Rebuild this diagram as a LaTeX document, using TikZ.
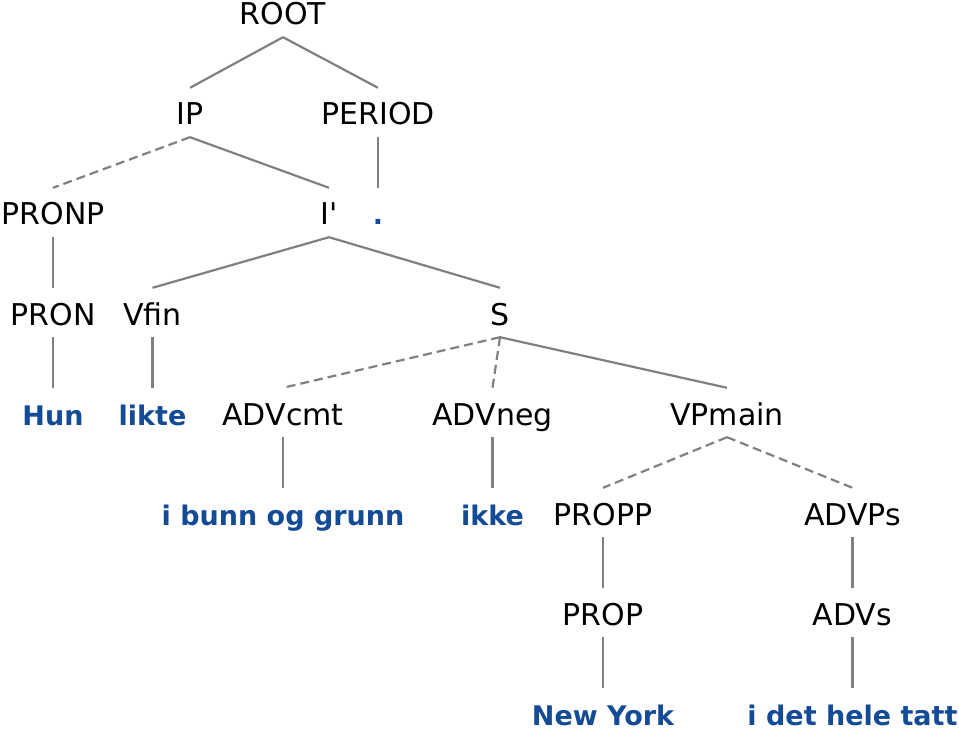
\documentclass[tikz,border=0pt]{standalone}
\usepackage{fontspec}
\setmainfont{DejaVu Sans}
\usepackage{xcolor}
\definecolor{wordblue}{RGB}{20,75,150}
\definecolor{edgegray}{RGB}{128,128,128}

\begin{document}
\begin{tikzpicture}[
  x=1pt, y=-1pt,
  font=\fontsize{30}{34}\selectfont,
  cat/.style={anchor=base, inner xsep=2pt, inner ysep=6pt, text height=31pt, text depth=6pt},
  word/.style={anchor=base, inner xsep=1pt, inner ysep=2pt, text height=35pt, text depth=0pt,
    text=wordblue, font=\fontsize{27}{31}\selectfont\bfseries},
  edge/.style={draw=edgegray, line width=2.2pt},
  dashededge/.style={edge, dash pattern=on 9pt off 5pt}
]
\useasboundingbox (0,0) rectangle (959,730);

% Top: root and its daughters
\node[cat] (root) at (283,25) {ROOT};
\node[cat] (ip) at (190,125) {IP};
\node[cat] (period) at (378,125) {PERIOD};

\node[cat] (pronp) at (53,225) {PRONP};
\node[cat] (ibar) at (329,225) {I\textquotesingle};
\node[word] (stop) at (378,225) {.};

% Middle: pronoun, verb and sentence
\node[cat] (pron) at (53,325) {PRON};
\node[cat] (vfin) at (152.5,325) {Vfin};
\node[cat] (s) at (500,325) {S};

\node[word] (hun) at (53,425) {Hun};
\node[word] (likte) at (152.5,425) {likte};
\node[cat] (advcmt) at (283,425) {ADVcmt};
\node[cat] (advneg) at (492.5,425) {ADVneg};
\node[cat] (vpmain) at (727,425) {VPmain};

% Bottom: adverbials and object
\node[word] (ibunn) at (283,525) {i bunn og grunn};
\node[word] (ikke) at (492.5,525) {ikke};
\node[cat] (propp) at (603,525) {PROPP};
\node[cat] (advps) at (852.5,525) {ADVPs};

\node[cat] (prop) at (603,625) {PROP};
\node[cat] (advs) at (852.5,625) {ADVs};

\node[word] (newyork) at (603,725) {New York};
\node[word] (idet) at (852.5,725) {i det hele tatt};

% Edges
\draw[edge] (root.south) -- (ip.north);
\draw[edge] (root.south) -- (period.north);
\draw[dashededge] (ip.south) -- (pronp.north);
\draw[edge] (ip.south) -- (ibar.north);
\draw[edge] (period.south) -- (stop.north);
\draw[edge] (pronp.south) -- (pron.north);
\draw[edge] (ibar.south) -- (vfin.north);
\draw[edge] (ibar.south) -- (s.north);
\draw[edge] (pron.south) -- (hun.north);
\draw[edge] (vfin.south) -- (likte.north);
\draw[dashededge] (s.south) -- (advcmt.north);
\draw[dashededge] (s.south) -- (advneg.north);
\draw[edge] (s.south) -- (vpmain.north);
\draw[edge] (advcmt.south) -- (ibunn.north);
\draw[edge] (advneg.south) -- (ikke.north);
\draw[dashededge] (vpmain.south) -- (propp.north);
\draw[dashededge] (vpmain.south) -- (advps.north);
\draw[edge] (propp.south) -- (prop.north);
\draw[edge] (advps.south) -- (advs.north);
\draw[edge] (prop.south) -- (newyork.north);
\draw[edge] (advs.south) -- (idet.north);

\end{tikzpicture}
\end{document}
